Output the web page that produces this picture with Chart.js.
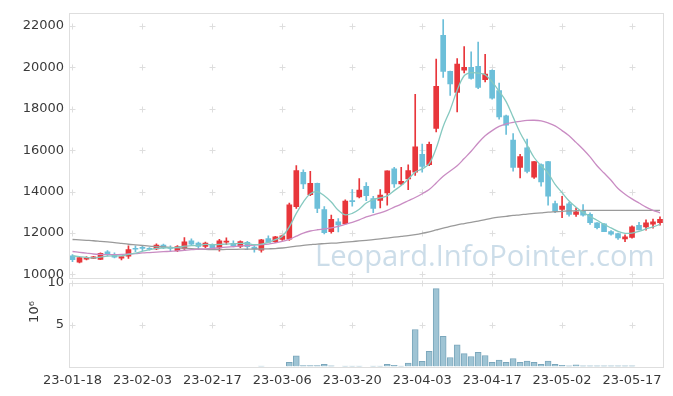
<!DOCTYPE html>
<html>
<head>
<meta charset="utf-8">
<script src="https://cdn.jsdelivr.net/npm/chart.js@4.4.0/dist/chart.umd.min.js"></script>
<style>
  html, body { margin: 0; padding: 0; background: #fff; }
  #wrap { position: relative; width: 673px; height: 396px; }
  #price { position: absolute; left: 0; top: 0; }
  #volume { position: absolute; left: 0; top: 270px; }
</style>
</head>
<body>
<div id="wrap">
  <canvas id="price" width="673" height="292"></canvas>
  <canvas id="volume" width="673" height="126"></canvas>
</div>
<script>
// trading days (yy-mm-dd)
const dates = [
  '23-01-18','23-01-19','23-01-20','23-01-25','23-01-26','23-01-27','23-01-30','23-01-31',
  '23-02-01','23-02-02','23-02-03','23-02-06','23-02-07','23-02-08','23-02-09','23-02-10','23-02-13','23-02-14','23-02-15','23-02-16','23-02-17','23-02-20','23-02-21','23-02-22','23-02-23','23-02-24','23-02-27','23-02-28',
  '23-03-02','23-03-03','23-03-06','23-03-07','23-03-08','23-03-09','23-03-10','23-03-13','23-03-14','23-03-15','23-03-16','23-03-17','23-03-20','23-03-21','23-03-22','23-03-23','23-03-24','23-03-27','23-03-28','23-03-29','23-03-30','23-03-31',
  '23-04-03','23-04-04','23-04-05','23-04-06','23-04-07','23-04-10','23-04-11','23-04-12','23-04-13','23-04-14','23-04-17','23-04-18','23-04-19','23-04-20','23-04-21','23-04-24','23-04-25','23-04-26','23-04-27','23-04-28',
  '23-05-02','23-05-03','23-05-04','23-05-08','23-05-09','23-05-10','23-05-11','23-05-12','23-05-15','23-05-16','23-05-17','23-05-18','23-05-19','23-05-22','23-05-23'
];

const open = [
  10900,10600,10740,10780,10730,11100,10950,10790,10880,11250,
  11290,11240,11230,11420,11300,11150,11260,11630,11520,11360,
  11440,11280,11560,11500,11350,11550,11320,11180,11740,11580,
  11690,11700,13270,14930,13860,14400,13140,12070,12540,12450,
  13560,13750,14260,13670,13575,13940,15100,14370,14610,14940,
  15800,15300,17050,21550,19810,18800,19870,20000,20050,19410,
  19860,18880,17660,16490,15170,16120,14700,15310,15450,13430,
  13140,13410,12900,13100,12900,12500,12450,12070,11980,11720,
  11790,12380,12300,12430,12500
];
const high = [
  10960,10850,10870,10880,11040,11160,11040,10870,11380,11380,
  11380,11300,11480,11470,11380,11400,11780,11720,11560,11560,
  11480,11700,11770,11620,11620,11600,11400,11700,11870,11840,
  11900,13450,15260,15060,14980,14420,13280,12870,12700,13600,
  14100,14630,14440,13780,14100,15010,15170,15170,15300,18700,
  16300,16400,20400,22310,19830,20430,21010,20750,21230,20640,
  19880,19250,17700,16810,15800,16540,15450,15350,15460,13540,
  13780,13490,13220,13380,12980,12510,12460,12120,12000,11910,
  12350,12520,12640,12670,12780
];
const low = [
  10620,10560,10700,10760,10710,10900,10800,10700,10770,11100,
  11150,11180,11200,11250,11150,11100,11150,11420,11200,11300,
  11200,11130,11440,11330,11300,11200,11080,11080,11580,11540,
  11650,11650,13190,14150,13810,12980,11960,12000,12060,12400,
  13300,13700,13560,12980,13220,13350,14210,14330,14100,14790,
  14940,15250,16890,19520,18650,17850,19730,19440,18970,19300,
  18470,17500,16760,14990,14660,14900,14640,14260,13350,12980,
  12740,12820,12800,12820,12420,12200,12070,11900,11690,11590,
  11750,12150,12140,12240,12380
];
const close = [
  10720,10820,10800,10850,11020,10960,10840,10860,11200,11220,
  11260,11220,11420,11290,11260,11350,11580,11470,11360,11520,
  11240,11620,11610,11390,11590,11340,11230,11670,11550,11820,
  11870,13360,15020,14370,14400,13190,12020,12660,12390,13540,
  13520,14080,13810,13190,13830,15010,14370,14500,15020,16170,
  15220,16290,19090,19810,19200,20160,20000,19470,19040,19680,
  18520,17610,17210,15170,15690,14980,15450,14470,13780,13060,
  13300,12900,13030,12870,12500,12260,12070,11950,11760,11820,
  12300,12150,12500,12540,12660
];

// moving averages
const ma5 = [
  10900,10860,10820,10800,10840,10890,10900,10900,10970,11030,
  11120,11200,11260,11280,11290,11310,11370,11390,11410,11450,
  11440,11450,11470,11480,11500,11500,11440,11470,11550,11680,
  11850,12300,12950,13500,13900,14000,13800,13500,13100,12880,
  12950,13150,13450,13620,13700,13800,14050,14300,14600,14950,
  15100,15350,16100,17150,17950,18900,19600,19750,19720,19650,
  19300,18850,18350,17600,16850,16250,15650,15250,14900,14350,
  13950,13550,13250,13000,12800,12620,12420,12250,12080,11990,
  12000,12080,12200,12300,12420
];
const ma20 = [
  11110,11070,11030,10990,10970,10960,10960,10970,10990,11010,
  11040,11060,11080,11100,11120,11140,11170,11200,11220,11240,
  11260,11290,11320,11350,11380,11400,11420,11440,11470,11530,
  11600,11700,11850,12000,12100,12160,12200,12250,12320,12420,
  12520,12640,12780,12880,12980,13100,13250,13400,13560,13720,
  13900,14100,14420,14750,15000,15250,15600,15950,16350,16700,
  16950,17150,17280,17350,17400,17440,17450,17420,17320,17180,
  16950,16700,16380,16050,15680,15250,14900,14550,14150,13880,
  13650,13450,13250,13100,12980
];
const ma60 = [
  11690,11670,11650,11630,11600,11570,11540,11500,11460,11430,
  11400,11370,11350,11330,11310,11290,11270,11250,11230,11210,
  11200,11200,11210,11210,11220,11220,11230,11230,11240,11250,
  11280,11320,11370,11410,11440,11470,11490,11510,11530,11560,
  11590,11620,11650,11680,11720,11760,11800,11840,11880,11930,
  11990,12060,12150,12240,12320,12400,12460,12520,12580,12650,
  12720,12770,12810,12850,12880,12920,12950,12980,13010,13030,
  13050,13070,13080,13090,13100,13100,13100,13100,13100,13100,
  13100,13100,13100,13100,13100
];

// volume in millions (10^6)
const volume = [
  null,null,null,null,null,null,null,null,null,null,
  null,null,null,null,null,null,null,null,null,null,
  null,null,null,null,null,null,null,0.06,null,null,
  null,0.5,1.27,0.12,0.12,0.12,0.27,0.08,null,0.04,
  0.04,0.04,null,0.04,0.04,0.27,0.15,0.04,0.4,4.42,
  0.62,1.8,9.3,3.6,1.08,2.58,1.54,1.19,1.69,1.31,
  0.5,0.77,0.5,0.96,0.5,0.65,0.5,0.27,0.65,0.27,
  0.15,0.08,0.19,0.08,0.08,0.08,0.08,0.08,0.08,0.08,
  0.08,null,null,null,null
];

const priceTicks = [10000, 12000, 14000, 16000, 18000, 20000, 22000];
const volumeTicks = [5, 10];

const upColor = '#e8363b';
const downColor = '#6cbfd9';
const candleColors = close.map((c, i) => c >= open[i] ? upColor : downColor);
const font = { family: 'DejaVu Sans', size: 13 };
const textColor = '#3a3a3a';
const axisWidth = 69;

// little "+" marks where the grid lines would cross
const crosses = {
  id: 'crosses',
  beforeDatasetsDraw(chart) {
    const { ctx, scales: { x, y } } = chart;
    ctx.save();
    ctx.strokeStyle = '#dedede';
    ctx.lineWidth = 1;
    for (let i = 0; i < dates.length; i += 10) {
      const px = Math.round(x.getPixelForValue(i)) + 0.5;
      y.ticks.forEach(t => {
        const py = Math.round(y.getPixelForValue(t.value)) + 0.5;
        ctx.beginPath();
        ctx.moveTo(px - 3, py); ctx.lineTo(px + 3, py);
        ctx.moveTo(px, py - 3); ctx.lineTo(px, py + 3);
        ctx.stroke();
      });
    }
    ctx.restore();
  }
};

const frame = {
  id: 'frame',
  afterDraw(chart) {
    const { ctx, chartArea: a } = chart;
    ctx.save();
    ctx.strokeStyle = '#dedede';
    ctx.lineWidth = 1;
    ctx.strokeRect(Math.round(a.left) + 0.5, Math.round(a.top) + 0.5,
      Math.round(a.right - a.left) - 1, Math.round(a.bottom - a.top));
    ctx.restore();
  }
};

const watermark = {
  id: 'watermark',
  beforeDatasetsDraw(chart) {
    const ctx = chart.ctx;
    const text = 'Leopard.InfoPointer.com';
    ctx.save();
    ctx.font = '40px "Open Sans"';
    const size = 40 * 340 / ctx.measureText(text).width;
    ctx.font = size.toFixed(1) + 'px "Open Sans"';
    ctx.fillStyle = 'rgba(170, 198, 218, 0.6)';
    ctx.textBaseline = 'alphabetic';
    ctx.fillText(text, 315, 266);
    ctx.restore();
  }
};

const unitLabel = {
  id: 'unitLabel',
  afterDraw(chart) {
    const ctx = chart.ctx;
    ctx.save();
    ctx.translate(35, 42);
    ctx.rotate(-Math.PI / 2);
    ctx.font = '13px "DejaVu Sans"';
    ctx.fillStyle = textColor;
    ctx.textAlign = 'center';
    ctx.textBaseline = 'middle';
    ctx.fillText('10\u2076', 0, 0);
    ctx.restore();
  }
};

const maLine = (data, color) => ({
  type: 'line', data, borderColor: color, borderWidth: 1.3,
  pointRadius: 0, tension: 0.35, order: 0
});

new Chart(document.getElementById('price'), {
  type: 'bar',
  data: {
    labels: dates,
    datasets: [
      maLine(ma5, '#86c9c0'),
      maLine(ma20, '#c98cc3'),
      maLine(ma60, '#9a9a9a'),
      {
        data: low.map((l, i) => [l, high[i]]),
        backgroundColor: candleColors, barThickness: 1, grouped: false, order: 2
      },
      {
        data: open.map((o, i) => [o, close[i]]),
        backgroundColor: candleColors, barThickness: 5, grouped: false,
        minBarLength: 1, order: 1
      }
    ]
  },
  options: {
    responsive: false,
    animation: false,
    layout: { padding: { top: 10, right: 9.5, bottom: 14, left: 0 } },
    plugins: { legend: { display: false }, tooltip: { enabled: false } },
    scales: {
      x: { display: false, offset: true },
      y: {
        min: 9830, max: 22640,
        afterBuildTicks: s => { s.ticks = priceTicks.map(v => ({ value: v })); },
        afterFit: s => { s.width = axisWidth; },
        grid: { display: false, drawTicks: false },
        border: { display: false },
        ticks: { padding: 5, color: textColor, font, callback: v => String(v) }
      }
    }
  },
  plugins: [watermark, crosses, frame]
});

new Chart(document.getElementById('volume'), {
  type: 'bar',
  data: {
    labels: dates,
    datasets: [{
      data: volume, backgroundColor: '#9fc4d4', borderColor: '#7ba7bc',
      borderWidth: 1, barThickness: 6
    }]
  },
  options: {
    responsive: false,
    animation: false,
    layout: { padding: { top: 8, right: 9.5, bottom: 0, left: 0 } },
    plugins: { legend: { display: false }, tooltip: { enabled: false } },
    scales: {
      x: {
        offset: true,
        grid: { display: false, drawTicks: false },
        border: { display: false },
        afterFit: s => { s.height = 29.5; },
        ticks: {
          autoSkip: false, maxRotation: 0, padding: 6, color: textColor, font,
          callback: (v, i) => i % 10 === 0 ? dates[i] : null
        }
      },
      y: {
        min: 0, max: 10,
        afterBuildTicks: s => { s.ticks = volumeTicks.map(v => ({ value: v })); },
        afterFit: s => { s.width = axisWidth; },
        grid: { display: false, drawTicks: false },
        border: { display: false },
        ticks: { padding: 5, color: textColor, font, callback: v => String(v) }
      }
    }
  },
  plugins: [crosses, frame, unitLabel]
});
</script>
</body>
</html>
